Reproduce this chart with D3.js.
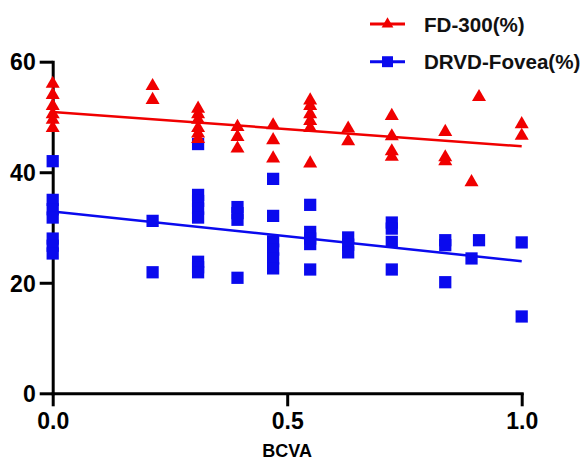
<!DOCTYPE html>
<html><head><meta charset="utf-8">
<script src="https://cdn.jsdelivr.net/npm/d3@7"></script>
<style>body{margin:0;background:#fff}svg{display:block}</style>
</head><body><svg id="c" width="585" height="461"></svg>
<script>
// BCVA columns and values
const fdX = [0,0,0,0,0,0, 0.213,0.213, 0.31,0.31,0.31,0.31,0.31,0.31, 0.394,0.394,0.394, 0.47,0.47,0.47, 0.549,0.549,0.549,0.549,0.549,0.549, 0.63,0.63, 0.723,0.723,0.723,0.723, 0.837,0.837,0.837, 0.893, 0.909, 1.0,1.0];
const fdY = [56,54,52,50.5,49.5,48, 55.6,53.1, 51.5,50.5,49.5,48,47,46, 48.2,46.4,44.3, 48.5,45.8,42.5, 53,52,50.5,49.3,48,41.6, 47.9,45.6, 50.2,46.5,43.8,42.8, 47.3,42.7,42, 38.2, 53.6, 48.7,46.6];
const drvdX = [0,0,0,0,0,0,0, 0.213,0.213, 0.31,0.31,0.31,0.31,0.31,0.31,0.31,0.31, 0.394,0.394,0.394,0.394, 0.47,0.47,0.47,0.47,0.47,0.47, 0.549,0.549,0.549,0.549,0.549, 0.63,0.63,0.63, 0.723,0.723,0.723,0.723, 0.837,0.837,0.837, 0.893, 0.909, 1.0,1.0];
const drvdY = [42,35,33.3,31.8,28,26.7,25.3, 31.2,21.9, 45.1,35.9,34.8,33.4,31.8,23.8,22.8,21.9, 33.7,32.6,31.4,20.9, 38.8,32.1,27.5,26,24.4,22.6, 34.1,29.2,28,27,22.4, 28.2,26.9,25.5, 30.9,29.8,27.4,22.4, 27.7,26.8,20.1, 24.4, 27.7, 27.3,13.9];
// fitted lines (endpoints)
const fitX = [0, 1];
const fdFit = [50.9, 44.7];
const drvdFit = [32.9, 23.9];
const xTicks = [0, 0.5, 1.0];
const yTicks = [0, 20, 40, 60];
const legendLabels = ["FD-300(%)", "DRVD-Fovea(%)"];

const RED = "#f00000", BLUE = "#0a0aee";
const svg = d3.select("#c");
const x = d3.scaleLinear().domain([0,1]).range([52.7, 521.7]);
const y = d3.scaleLinear().domain([0,60]).range([393.3, 61.7]);
const font = "'Liberation Sans', Arial, sans-serif";

// axes
const gx = svg.append("g").attr("transform", `translate(0,${y(0)})`)
  .call(d3.axisBottom(x).tickValues(xTicks).tickFormat(d3.format(".1f")).tickSize(13).tickSizeOuter(0).tickPadding(6));
const gy = svg.append("g").attr("transform", `translate(${x(0)},0)`)
  .call(d3.axisLeft(y).tickValues(yTicks).tickSize(13).tickSizeOuter(0).tickPadding(4));
[gx, gy].forEach(g => {
  g.select(".domain").attr("stroke", "#000").attr("stroke-width", 3).attr("stroke-linecap","square");
  g.selectAll(".tick line").attr("stroke", "#000").attr("stroke-width", 3);
  g.selectAll(".tick text").attr("fill", "#000").attr("font-family", font).attr("font-weight", "bold").attr("font-size", 23);
});
gx.selectAll(".tick text").attr("dy", "0.71em");
gy.selectAll(".tick text").attr("dy", "0.36em");

svg.append("text").attr("x", x(0.5)).attr("y", 457).attr("text-anchor", "middle")
  .attr("font-family", font).attr("font-weight", "bold").attr("font-size", 18).text("BCVA");

// fit lines
const line = d3.line().x(d => x(d[0])).y(d => y(d[1]));
svg.append("path").datum(d3.zip(fitX, drvdFit)).attr("d", line).attr("stroke", BLUE).attr("stroke-width", 2.5).attr("fill", "none");
svg.append("path").datum(d3.zip(fitX, fdFit)).attr("d", line).attr("stroke", RED).attr("stroke-width", 2.5).attr("fill", "none");

const sq = d3.symbol().type(d3.symbolSquare).size(150);
const tri = d3.symbol().type(d3.symbolTriangle).size(85);
svg.append("g").selectAll("path").data(d3.zip(drvdX, drvdY)).join("path")
  .attr("d", sq).attr("transform", d => `translate(${x(d[0])},${y(d[1])})`).attr("fill", BLUE);
svg.append("g").selectAll("path").data(d3.zip(fdX, fdY)).join("path")
  .attr("d", tri).attr("transform", d => `translate(${x(d[0])},${y(d[1])})`).attr("fill", RED);

// legend
const lg = svg.append("g");
const lys = [24, 61.7];
[[RED, tri], [BLUE, sq]].forEach((s, i) => {
  lg.append("line").attr("x1", 370).attr("x2", 405).attr("y1", lys[i]).attr("y2", lys[i]).attr("stroke", s[0]).attr("stroke-width", 3);
  lg.append("path").attr("d", i === 0 ? d3.symbol().type(d3.symbolTriangle).size(60)() : d3.symbol().type(d3.symbolSquare).size(120)())
    .attr("transform", `translate(387.5,${lys[i]})`).attr("fill", s[0]);
  lg.append("text").attr("x", 424).attr("y", lys[i] + 7.7).attr("font-family", font).attr("font-weight", "bold")
    .attr("font-size", 20.6).attr("fill", "#111").text(legendLabels[i]);
});
</script></body></html>
